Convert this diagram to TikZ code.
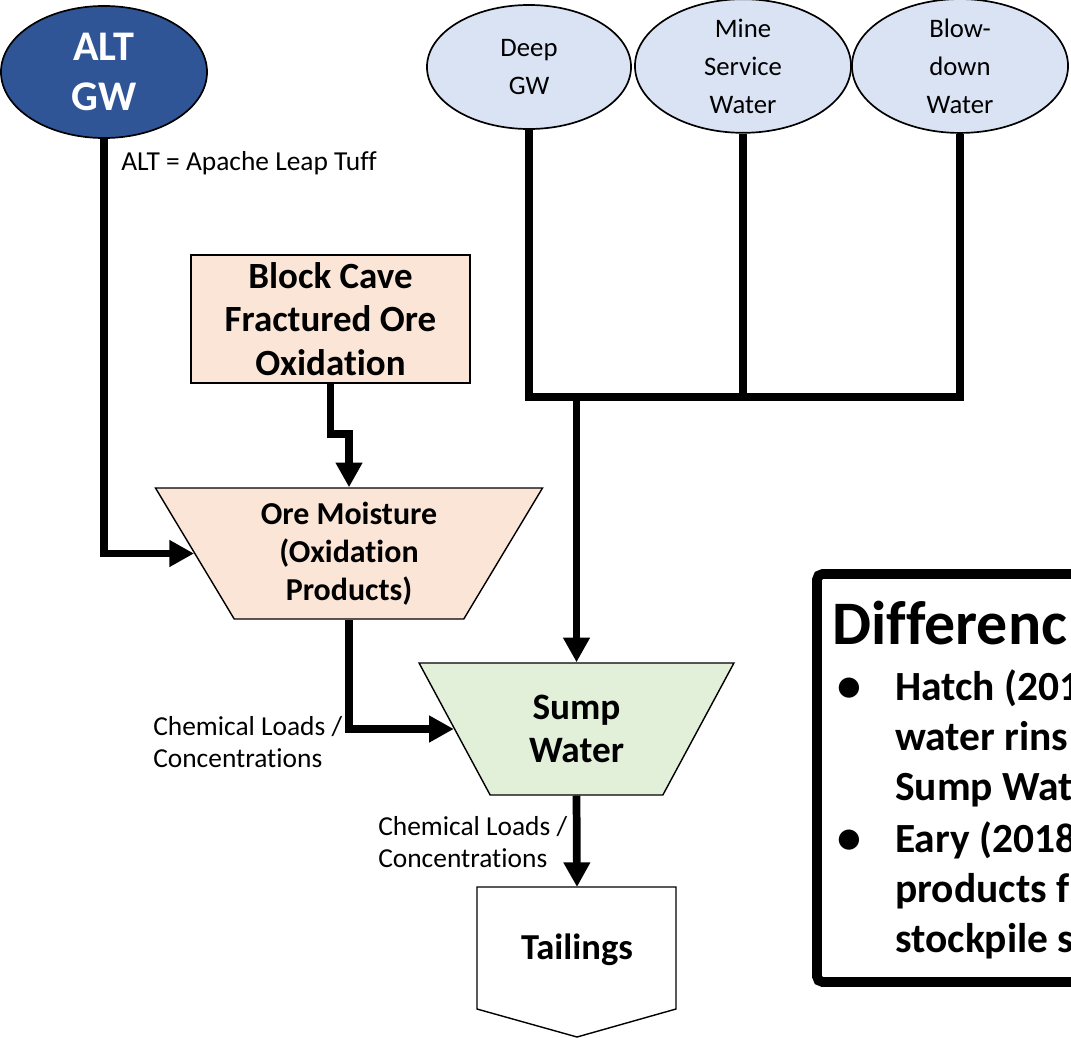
\documentclass[tikz,border=0pt]{standalone}
\usepackage{fontspec}
\setmainfont{Carlito}[Ligatures=NoCommon]
\usetikzlibrary{arrows.meta,positioning,shapes.geometric}
\definecolor{altblue}{HTML}{2F5597}
\definecolor{srcbg}{HTML}{DAE3F3}
\definecolor{orebg}{HTML}{FBE5D6}
\definecolor{sumpbg}{HTML}{E2F0D9}
\tikzset{
  source/.style={ellipse,draw=black,line width=1.2pt,fill=srcbg,inner sep=0pt,
                 align=center,font=\fontsize{19}{27}\selectfont},
  orebox/.style={draw=black,fill=orebg,line width=1pt,align=center,inner sep=0pt},
  funnel/.style={trapezium,shape border rotate=180,trapezium stretches=true,
                 draw=black,line width=1pt,inner sep=0pt,align=center},
  flowline/.style={line width=5.5pt},
  flowarr/.style={-{Triangle[length=17.5pt,width=18pt]},line width=5.5pt},
  note/.style={align=left,anchor=west,inner sep=0pt,font=\fontsize{19.5}{22.7}\selectfont},
  pointline/.style={anchor=base west,inner sep=0pt,font=\fontsize{29.5}{34}\selectfont\bfseries}
}

\begin{document}
\begin{tikzpicture}[x=0.025cm,y=-0.025cm]
  \useasboundingbox (0,0) rectangle (1071,1038);
  \clip (0,0) rectangle (1071,1038);

  \node[source,fill=altblue,text=white,minimum width=5.15cm,minimum height=3.3cm,
        font=\fontsize{30}{35}\selectfont\bfseries] (alt) at (104,72) {ALT\\GW};
  \node[source,minimum width=5.1cm,minimum height=3.1cm] (deep) at (529,67) {Deep\\GW};
  \node[source,minimum width=5.4cm,minimum height=3.3cm] (mine) at (743,66) {Mine\\Service\\Water};
  \node[source,minimum width=5.4cm,minimum height=3.3cm] (blow) at (960,66) {Blow-\\down\\Water};

  \node[orebox,minimum width=6.975cm,minimum height=3.2cm,
        font=\fontsize{26.3}{31}\selectfont\bfseries] (cave) at (330.5,319)
    {Block Cave\\Fractured Ore\\Oxidation};
  \node[funnel,fill=orebg,trapezium angle=59.6,minimum width=9.7cm,minimum height=3.275cm,
        font=\fontsize{22.7}{27}\selectfont\bfseries] (ore) at (349,553.5)
    {Ore Moisture\\(Oxidation\\Products)};
  \node[funnel,fill=sumpbg,trapezium angle=59.7,minimum width=7.875cm,minimum height=3.3cm,
        font=\fontsize{26.5}{30}\selectfont\bfseries] (sump) at (576.5,729) {Sump\\Water};

  \draw[line width=1pt,fill=white] (477,887) -- (676,887) -- (676,1009) -- (577,1037)
    -- (477,1009) -- cycle;
  \coordinate (tailtop) at (577,887);
  \node[font=\fontsize{26}{30}\selectfont\bfseries] (tail) at (577,950) {Tailings};

  \coordinate (joinrow) at (0,397);
  \draw[flowline] (deep.south) |- (blow.south |- joinrow) -- (blow.south);
  \draw[flowline] (mine.south) -- (mine.south |- joinrow);
  \draw[flowarr] (sump.north |- joinrow) -- (sump.north);
  \draw[flowarr] (alt.south) |- (ore.west);
  \draw[flowarr] (cave.south) -- ++(0,50) -| (ore.north);
  \draw[flowarr] (ore.south) |- (sump.west);
  \draw[flowarr] (sump.south) -- (tailtop);

  \node[note] (altnote) at (121,163) {ALT = Apache Leap Tuff};
  \node[note] (loadsa) at (153,742) {Chemical Loads /\\Concentrations};
  \node[note] (loadsb) at (378,842) {Chemical Loads /\\Concentrations};

  % differences box, cut at the right edge
  \draw[line width=7pt,rounded corners=4pt] (817,574) rectangle (1120,982);
  \node[anchor=base west,inner sep=0pt,font=\fontsize{44}{50}\selectfont\bfseries]
    (diffhead) at (832,644) {Differenc};
  \node[pointline,font=\fontsize{34}{34}\selectfont\bfseries] (dota) at (837,701) {\textbullet};
  \node[pointline] (pta) at (895,700) {Hatch (201};
  \node[pointline] (ptb) at (895,750) {water rins};
  \node[pointline] (ptc) at (895,800) {Sump Wat};
  \node[pointline,font=\fontsize{34}{34}\selectfont\bfseries] (dotb) at (837,853) {\textbullet};
  \node[pointline] (ptd) at (895,852) {Eary (2018};
  \node[pointline] (pte) at (895,902) {products f};
  \node[pointline] (ptf) at (895,952) {stockpile s};
\end{tikzpicture}
\end{document}
